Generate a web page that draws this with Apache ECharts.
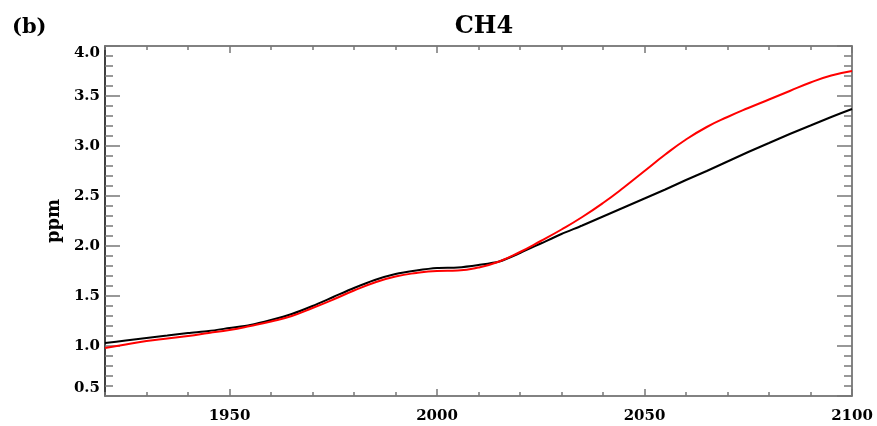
<!DOCTYPE html>
<html>
<head>
<meta charset="utf-8">
<script src="https://cdn.jsdelivr.net/npm/echarts@6/dist/echarts.min.js"></script>
<style>
  html, body { margin: 0; padding: 0; background: #fff; }
  #chart { width: 877px; height: 426px; }
</style>
</head>
<body>
<div id="chart"></div>
<script>
// CH4 concentration (ppm), 1920-2100, 5-year steps
const years = [1920, 1925, 1930, 1935, 1940, 1945, 1950, 1955, 1960, 1965,
               1970, 1975, 1980, 1985, 1990, 1995, 2000, 2005, 2010, 2015,
               2020, 2025, 2030, 2035, 2040, 2045, 2050, 2055, 2060, 2065,
               2070, 2075, 2080, 2085, 2090, 2095, 2100];
const ch4Black = [1.03, 1.055, 1.08, 1.105, 1.13, 1.15, 1.18, 1.21, 1.26, 1.32,
                  1.40, 1.49, 1.58, 1.66, 1.72, 1.755, 1.78, 1.785, 1.81, 1.845,
                  1.93, 2.025, 2.12, 2.205, 2.295, 2.385, 2.475, 2.565, 2.66, 2.75,
                  2.845, 2.94, 3.03, 3.12, 3.205, 3.29, 3.37];
const ch4Red = [0.98, 1.015, 1.05, 1.075, 1.10, 1.13, 1.16, 1.20, 1.245, 1.30,
                1.38, 1.465, 1.555, 1.635, 1.695, 1.73, 1.75, 1.755, 1.785, 1.845,
                1.94, 2.05, 2.165, 2.29, 2.43, 2.585, 2.75, 2.915, 3.065, 3.19,
                3.29, 3.38, 3.465, 3.55, 3.635, 3.705, 3.75];
const yearLabels = [1950, 2000, 2050, 2100];

const FONT = 'DejaVu Serif';
const tickGray = '#777';
const frameGray = '#5a5a5a';

function pairs(xs, ys) { return xs.map((x, i) => [x, ys[i]]); }

function xAxisPair(pos, showLabels) {
  const base = {
    type: 'value', position: pos, min: 1920, max: 2100,
    splitLine: { show: false },
    axisLine: { show: true, onZero: false, lineStyle: { color: frameGray, width: 1.5 } }
  };
  return [
    Object.assign({}, base, {
      interval: 10,
      axisTick: { show: true, inside: true, length: 4, lineStyle: { color: tickGray, width: 1.5 } },
      axisLabel: { show: false }
    }),
    Object.assign({}, base, {
      interval: 10,
      axisLine: { show: false },
      axisTick: { show: true, inside: true, length: 7, customValues: yearLabels,
                  lineStyle: { color: tickGray, width: 1.5 } },
      axisLabel: showLabels ? {
        show: true, customValues: yearLabels, margin: 13, formatter: v => String(v),
        fontFamily: FONT, fontWeight: 'bold', fontSize: 15, color: '#000'
      } : { show: false }
    })
  ];
}

function yAxis(pos, showLabels) {
  return {
    type: 'value', position: pos, min: 0.5, max: 4.0, interval: 0.5,
    splitLine: { show: false },
    axisLine: { show: true, onZero: false,
                lineStyle: { color: pos === 'left' ? '#000' : frameGray, width: 1.5 } },
    axisTick: { show: true, inside: true, length: 15, lineStyle: { color: tickGray, width: 1.5 } },
    minorTick: { show: true, splitNumber: 5, length: 8, lineStyle: { color: tickGray, width: 1.5 } },
    minorSplitLine: { show: false },
    name: showLabels ? 'ppm' : '',
    nameLocation: 'middle', nameGap: 42,
    nameTextStyle: { fontFamily: FONT, fontWeight: 'bold', fontSize: 18, color: '#000' },
    axisLabel: showLabels ? {
      show: true, margin: 5, formatter: v => v.toFixed(1),
      fontFamily: FONT, fontWeight: 'bold', fontSize: 15, color: '#000',
      verticalAlignMinLabel: 'bottom', verticalAlignMaxLabel: 'top'
    } : { show: false }
  };
}

const chart = echarts.init(document.getElementById('chart'), null, { renderer: 'canvas' });
chart.setOption({
  animation: false,
  backgroundColor: '#fff',
  title: [
    { text: 'CH4', left: 479, top: 10, textAlign: 'center',
      textStyle: { fontFamily: FONT, fontWeight: 'bold', fontSize: 24, color: '#000' } },
    { text: '(b)', left: 7, top: 12,
      textStyle: { fontFamily: FONT, fontWeight: 'bold', fontSize: 21, color: '#000' } }
  ],
  grid: { left: 105, top: 46, width: 747, height: 350, containLabel: false },
  xAxis: [...xAxisPair('bottom', true), ...xAxisPair('top', false)],
  yAxis: [yAxis('left', true), yAxis('right', false)],
  series: [
    { type: 'line', name: 'black', data: pairs(years, ch4Black), xAxisIndex: 0, yAxisIndex: 0,
      showSymbol: false, smooth: 0.25, lineStyle: { color: '#000', width: 2 } },
    { type: 'line', name: 'red', data: pairs(years, ch4Red), xAxisIndex: 0, yAxisIndex: 0,
      showSymbol: false, smooth: 0.5, lineStyle: { color: '#ff0000', width: 2 } }
  ]
});
</script>
</body>
</html>
